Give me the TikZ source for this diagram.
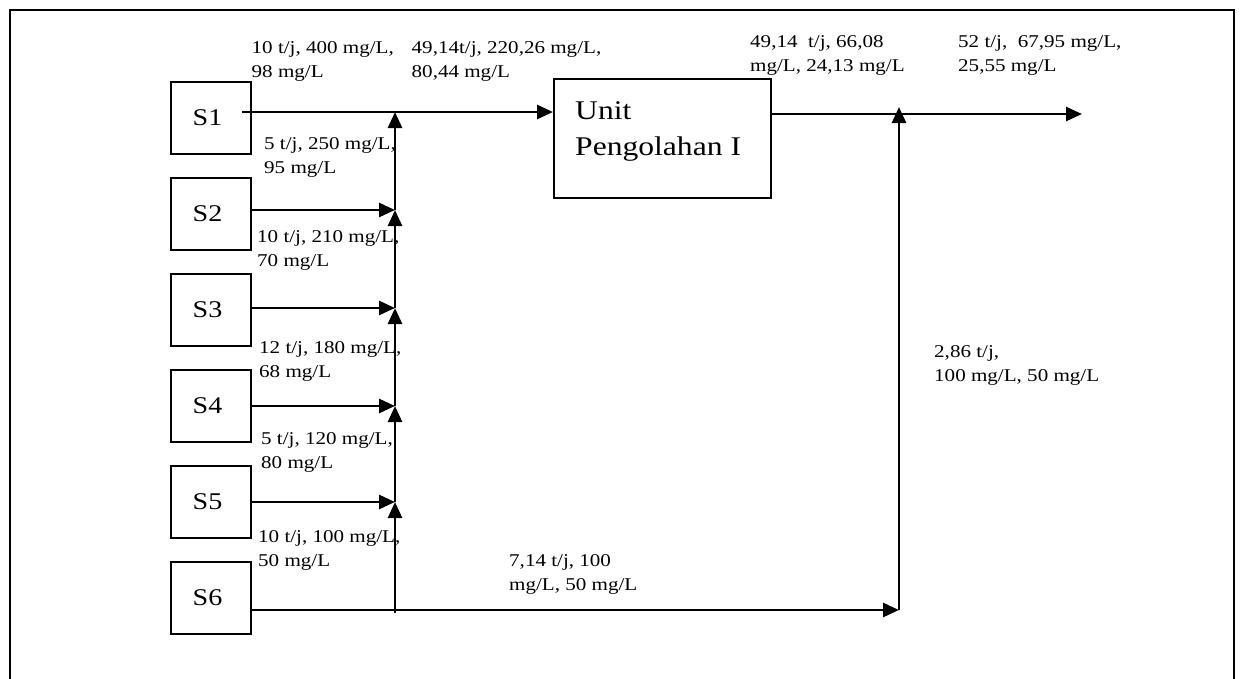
\documentclass[tikz,border=0pt]{standalone}
\usepackage{fontspec}
\setmainfont[FakeStretch=1.17]{Liberation Serif}
\usetikzlibrary{arrows.meta}
\newcommand{\twolines}[2]{\begin{tabular}[t]{@{}l@{}}#1\\#2\end{tabular}}
\begin{document}
\begin{tikzpicture}[x=1pt,y=-1pt,
  sbox/.style={draw, line width=2pt, minimum width=80pt, minimum height=72pt, inner sep=0pt, font=\fontsize{24}{28}\selectfont, execute at begin node={\hspace*{-7pt}}},
  ubox/.style={draw, line width=2pt, minimum width=217pt, minimum height=119pt, inner sep=0pt},
  flow/.style={line width=2.7pt, -{Triangle[length=16pt,width=14pt]}},
  frame/.style={line width=2pt},
  lab/.style={anchor=base west, inner sep=0pt, font=\fontsize{18}{24}\selectfont},
  utext/.style={anchor=base west, inner sep=0pt, font=\fontsize{27}{36}\selectfont}]
\useasboundingbox (0,0) rectangle (1240,678);
\draw[frame] (9.5,680) -- (9.5,9.5) -- (1233.5,9.5) -- (1233.5,680);

% source boxes
\node[sbox] (s1) at (211,118) {S1};
\node[sbox] (s2) at (211,214) {S2};
\node[sbox] (s3) at (211,310) {S3};
\node[sbox] (s4) at (211,406) {S4};
\node[sbox] (s5) at (211,502) {S5};
\node[sbox] (s6) at (211,598) {S6};

% treatment unit
\node[ubox] (unit) at (662.5,138.5) {};
\node[utext] (unittext) at (575,119) {\twolines{Unit}{Pengolahan I}};

% junctions
\coordinate (s1o) at (242,112);
\coordinate (j1) at (395,112);
\coordinate (j2) at (395,210);
\coordinate (j3) at (395,308);
\coordinate (j4) at (395,406);
\coordinate (j5) at (395,502);
\coordinate (j6) at (395,613);
\coordinate (k6) at (899,610);
\coordinate (k1) at (899,107);
\coordinate (m1) at (899,114);
\coordinate (out) at (1082,114);

% connectors
\draw[flow] (s1o) -- (unit.west |- s1o);
\draw[flow] (s2.east |- j2) -- (j2);
\draw[flow] (s3.east |- j3) -- (j3);
\draw[flow] (s4.east |- j4) -- (j4);
\draw[flow] (s5.east |- j5) -- (j5);
\draw[flow] (j6) -- (j5);
\draw[flow] (j5) -- (j4);
\draw[flow] (j4) -- (j3);
\draw[flow] (j3) -- (j2);
\draw[flow] (j2) -- (j1);
\draw[flow] (s6.east |- k6) -- (k6);
\draw[flow] (k6) -- (k1);
\draw[flow] (unit.east |- m1) -- (out);

% labels
\node[lab] (l1) at (251.5,53.3) {\twolines{10 t/j, 400 mg/L,}{98 mg/L}};
\node[lab] (l2) at (411.5,53.3) {\twolines{49,14t/j, 220,26 mg/L,}{80,44 mg/L}};
\node[lab] (l3) at (750,47.5) {\twolines{49,14~ t/j, 66,08}{mg/L, 24,13 mg/L}};
\node[lab] (l4) at (958,47.5) {\twolines{52 t/j,~ 67,95 mg/L,}{25,55 mg/L}};
\node[lab] (l5) at (264,149.5) {\twolines{5 t/j, 250 mg/L,}{95 mg/L}};
\node[lab] (l6) at (257,242) {\twolines{10 t/j, 210 mg/L,}{70 mg/L}};
\node[lab] (l7) at (259,353) {\twolines{12 t/j, 180 mg/L,}{68 mg/L}};
\node[lab] (l8) at (261,444) {\twolines{5 t/j, 120 mg/L,}{80 mg/L}};
\node[lab] (l9) at (258,542) {\twolines{10 t/j, 100 mg/L,}{50 mg/L}};
\node[lab] (l10) at (509,566.5) {\twolines{7,14 t/j, 100}{mg/L, 50 mg/L}};
\node[lab] (l11) at (934,357) {\twolines{2,86 t/j,}{100 mg/L, 50 mg/L}};
\end{tikzpicture}
\end{document}
